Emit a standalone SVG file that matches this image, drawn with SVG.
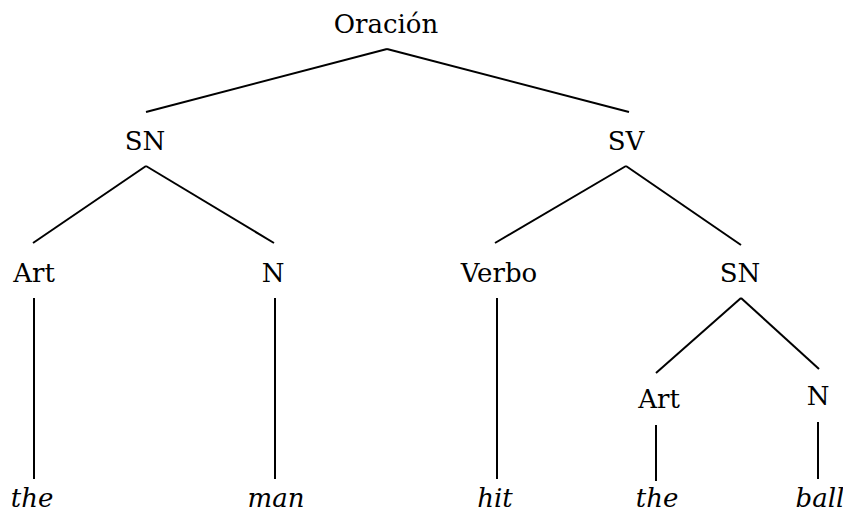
<svg xmlns="http://www.w3.org/2000/svg" width="843" height="521" viewBox="0 0 843 521">
<style>
.t{font-family:"DejaVu Serif",serif;font-size:26px;fill:#000;text-anchor:middle}
.w{font-style:italic}
.e{stroke:#000;stroke-width:2;fill:none;stroke-linecap:butt}
</style>
<rect width="843" height="521" fill="#fff"/>
<g id="connectors">
<line class="e" x1="387" y1="49" x2="146" y2="112"/>
<line class="e" x1="387" y1="49" x2="629" y2="112"/>
<line class="e" x1="146" y1="166" x2="33" y2="243"/>
<line class="e" x1="146" y1="166" x2="274" y2="243"/>
<line class="e" x1="626" y1="166" x2="495" y2="243"/>
<line class="e" x1="626" y1="166" x2="741" y2="245"/>
<line class="e" x1="741" y1="298" x2="656" y2="373"/>
<line class="e" x1="741" y1="298" x2="819" y2="369"/>
<line class="e" x1="34" y1="298" x2="34" y2="479"/>
<line class="e" x1="275" y1="298" x2="275" y2="479"/>
<line class="e" x1="497" y1="298" x2="497" y2="479"/>
<line class="e" x1="656" y1="425" x2="656" y2="481"/>
<line class="e" x1="818" y1="422" x2="818" y2="479"/>
</g>
<g id="oracion"><text class="t" x="386" y="33">Oración</text></g>
<g id="sn1"><text class="t" x="145" y="150">SN</text></g>
<g id="sv"><text class="t" x="626" y="150">SV</text></g>
<g id="art1"><text class="t" x="34" y="282">Art</text></g>
<g id="n1"><text class="t" x="273" y="282">N</text></g>
<g id="verbo"><text class="t" x="499" y="282">Verbo</text></g>
<g id="sn2"><text class="t" x="740" y="282">SN</text></g>
<g id="art2"><text class="t" x="659" y="408">Art</text></g>
<g id="n2"><text class="t" x="818" y="405">N</text></g>
<g id="the1"><text class="t w" x="32" y="507">the</text></g>
<g id="man"><text class="t w" x="276" y="507">man</text></g>
<g id="hit"><text class="t w" x="495" y="507">hit</text></g>
<g id="the2"><text class="t w" x="657" y="507">the</text></g>
<g id="ball"><text class="t w" x="820" y="507">ball</text></g>
</svg>
